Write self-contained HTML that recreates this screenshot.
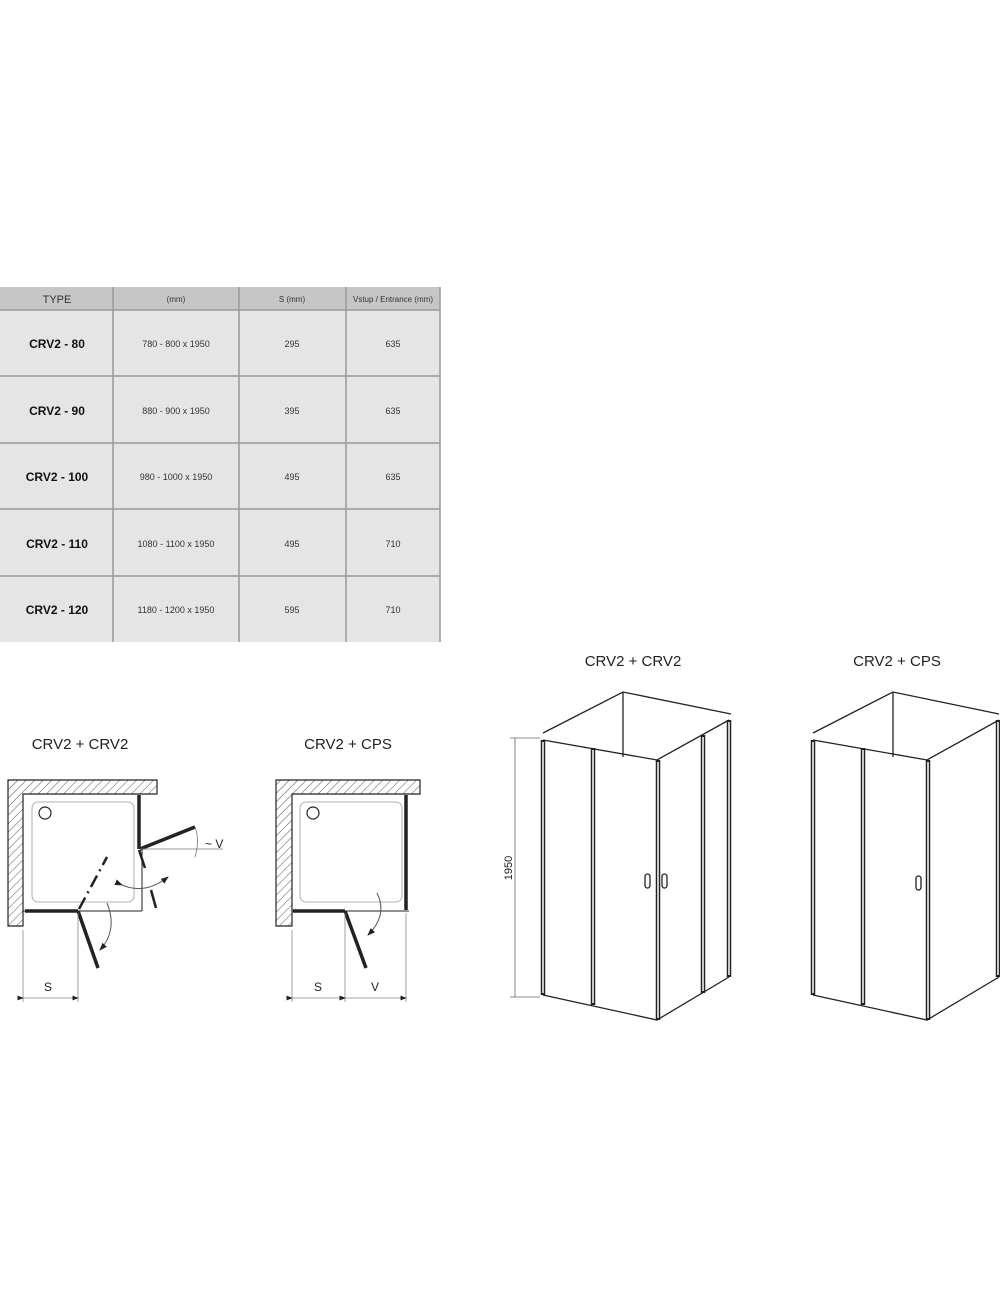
<!DOCTYPE html>
<html><head><meta charset="utf-8"><style>
body{margin:0;background:#fff;width:1000px;height:1309px;overflow:hidden;font-family:"Liberation Sans",Arial,sans-serif}
svg{position:absolute;left:0;top:0}
</style></head><body>
<svg width="1000" height="1309" viewBox="0 0 1000 1309" font-family="Liberation Sans, Arial, sans-serif">
<defs>
<pattern id="h" width="6" height="6" patternUnits="userSpaceOnUse" patternTransform="rotate(45)">
<rect width="6" height="6" fill="#fff"/><line x1="0" y1="0" x2="0" y2="6" stroke="#555" stroke-width="1"/></pattern>
<marker id="a" markerWidth="8" markerHeight="6" refX="7" refY="3" orient="auto"><path d="M0,0 L8,3 L0,6z" fill="#222"/></marker>
</defs>
<rect x="0" y="287" width="440" height="355" fill="#e5e5e5"/>
<rect x="0" y="287" width="440" height="23" fill="#c6c6c6"/>
<g stroke="#9a9a9a" stroke-width="1.5">
<line x1="113" y1="287" x2="113" y2="642"/><line x1="239" y1="287" x2="239" y2="642"/><line x1="346" y1="287" x2="346" y2="642"/>
<line x1="0" y1="310" x2="440" y2="310"/><line x1="0" y1="376" x2="440" y2="376"/><line x1="0" y1="443" x2="440" y2="443"/>
<line x1="0" y1="509" x2="440" y2="509"/><line x1="0" y1="576" x2="440" y2="576"/><line x1="440" y1="287" x2="440" y2="642"/>
</g>
<g fill="#333" text-anchor="middle">
<text x="57" y="303" font-size="11">TYPE</text><text x="176" y="302" font-size="8">(mm)</text>
<text x="292" y="302" font-size="8">S (mm)</text><text x="393" y="302" font-size="8">Vstup / Entrance (mm)</text>
<g font-size="12" font-weight="bold" fill="#111"><text x="57" y="348">CRV2 - 80</text><text x="57" y="415">CRV2 - 90</text><text x="57" y="481">CRV2 - 100</text><text x="57" y="548">CRV2 - 110</text><text x="57" y="614">CRV2 - 120</text></g>
<g font-size="9"><text x="176" y="347">780 - 800 x 1950</text><text x="176" y="414">880 - 900 x 1950</text><text x="176" y="480">980 - 1000 x 1950</text><text x="176" y="547">1080 - 1100 x 1950</text><text x="176" y="613">1180 - 1200 x 1950</text>
<text x="292" y="347">295</text><text x="292" y="414">395</text><text x="292" y="480">495</text><text x="292" y="547">495</text><text x="292" y="613">595</text>
<text x="393" y="347">635</text><text x="393" y="414">635</text><text x="393" y="480">635</text><text x="393" y="547">710</text><text x="393" y="613">710</text></g>
</g>
<g font-size="15" fill="#222" text-anchor="middle">
<text x="80" y="749">CRV2 + CRV2</text><text x="348" y="749">CRV2 + CPS</text>
<text x="633" y="666">CRV2 + CRV2</text><text x="897" y="666">CRV2 + CPS</text></g>
<g stroke="#222" fill="none">
<path d="M8,780 H157 V794 H23 V926 H8 Z" fill="url(#h)" stroke-width="1.2"/>
<rect x="32" y="802" width="102" height="100" rx="6" stroke="#999" stroke-width="0.8"/>
<circle cx="45" cy="813" r="6" stroke-width="1.2"/>
<line x1="23" y1="911" x2="142" y2="911" stroke-width="1"/>
<line x1="142" y1="850" x2="142" y2="911" stroke-width="1"/>
<line x1="25" y1="911" x2="78" y2="911" stroke-width="3.5"/>
<line x1="139" y1="795" x2="139" y2="849" stroke-width="3.5"/>
<line x1="139" y1="850" x2="145" y2="868" stroke-width="2.5"/>
<line x1="78" y1="911" x2="98" y2="968" stroke-width="3.5"/>
<line x1="140" y1="849" x2="195" y2="827" stroke-width="3.5"/>
<line x1="79" y1="909" x2="107" y2="857" stroke-width="2.5" stroke-dasharray="13,5,2,5"/>
<line x1="151" y1="890" x2="156" y2="908" stroke-width="2.5"/>
<path d="M107,903 Q118,930 100,950" stroke-width="1" stroke="#555" marker-end="url(#a)"/>
<path d="M122,885 Q145,895 168,877" stroke-width="1" stroke="#555" marker-end="url(#a)" marker-start="url(#a)"/>
<line x1="140" y1="849" x2="223" y2="849" stroke-width="0.8" stroke="#777"/>
<path d="M195,827 Q200,840 195,857" stroke-width="0.8" stroke="#777"/>
<g stroke="#888" stroke-width="0.8"><line x1="23" y1="930" x2="23" y2="1002"/><line x1="78" y1="913" x2="78" y2="1002"/>
<line x1="23" y1="998" x2="78" y2="998" marker-end="url(#a)" marker-start="url(#a)"/></g>
</g>
<text x="205" y="848" font-size="12" fill="#222">~ V</text>
<text x="48" y="991" font-size="12" fill="#222" text-anchor="middle">S</text>
<g stroke="#222" fill="none">
<path d="M276,780 H420 V794 H292 V926 H276 Z" fill="url(#h)" stroke-width="1.2"/>
<rect x="300" y="802" width="102" height="100" rx="6" stroke="#999" stroke-width="0.8"/>
<circle cx="313" cy="813" r="6" stroke-width="1.2"/>
<line x1="292" y1="911" x2="409" y2="911" stroke-width="1"/>
<line x1="293" y1="911" x2="345" y2="911" stroke-width="3.5"/>
<line x1="406" y1="795" x2="406" y2="910" stroke-width="3.5"/>
<line x1="345" y1="911" x2="366" y2="968" stroke-width="3.5"/>
<path d="M377,893 Q388,915 368,935" stroke-width="1" stroke="#555" marker-end="url(#a)"/>
<g stroke="#888" stroke-width="0.8"><line x1="292" y1="930" x2="292" y2="1002"/><line x1="345" y1="913" x2="345" y2="1002"/><line x1="406" y1="913" x2="406" y2="1002"/>
<line x1="292" y1="998" x2="345" y2="998" marker-end="url(#a)" marker-start="url(#a)"/>
<line x1="345" y1="998" x2="406" y2="998" marker-end="url(#a)" marker-start="url(#a)"/></g>
</g>
<text x="318" y="991" font-size="12" fill="#222" text-anchor="middle">S</text>
<text x="375" y="991" font-size="12" fill="#222" text-anchor="middle">V</text>
<g stroke="#222" fill="none" stroke-width="1.3">
<path d="M543,733 L623,692 L731,714"/><line x1="623" y1="692" x2="623" y2="757"/>
<path d="M543,740 L657,760 L729,720"/>
<path d="M543,995 L657,1020 L729,977"/>
<g stroke-width="4.5"><line x1="543" y1="740" x2="543" y2="995"/><line x1="593" y1="748" x2="593" y2="1005"/><line x1="658" y1="760" x2="658" y2="1020"/><line x1="703" y1="735" x2="703" y2="993"/><line x1="729" y1="720" x2="729" y2="977"/></g>
<g stroke="#fff" stroke-width="1.5"><line x1="543" y1="742" x2="543" y2="993"/><line x1="593" y1="750" x2="593" y2="1003"/><line x1="658" y1="762" x2="658" y2="1018"/><line x1="703" y1="737" x2="703" y2="991"/><line x1="729" y1="722" x2="729" y2="975"/></g>
<rect x="645" y="874" width="5" height="14" rx="2.5"/><rect x="662" y="874" width="5" height="14" rx="2.5"/>
<g stroke="#666" stroke-width="0.8"><line x1="515" y1="738" x2="515" y2="997"/><line x1="510" y1="738" x2="540" y2="738"/><line x1="510" y1="997" x2="540" y2="997"/></g>
</g>
<text transform="translate(512,868) rotate(-90)" font-size="11" fill="#222" text-anchor="middle">1950</text>
<g stroke="#222" fill="none" stroke-width="1.3" transform="translate(270,0)">
<path d="M543,733 L623,692 L729,714"/><line x1="623" y1="692" x2="623" y2="757"/>
<path d="M543,740 L657,760 L729,720"/>
<path d="M543,995 L657,1020 L729,977"/>
<g stroke-width="4.5"><line x1="543" y1="740" x2="543" y2="995"/><line x1="593" y1="748" x2="593" y2="1005"/><line x1="658" y1="760" x2="658" y2="1020"/><line x1="728" y1="720" x2="728" y2="977"/></g>
<g stroke="#fff" stroke-width="1.5"><line x1="543" y1="742" x2="543" y2="993"/><line x1="593" y1="750" x2="593" y2="1003"/><line x1="658" y1="762" x2="658" y2="1018"/><line x1="728" y1="722" x2="728" y2="975"/></g>
<rect x="646" y="876" width="5" height="14" rx="2.5"/>
</g>
</svg>
</body></html>
